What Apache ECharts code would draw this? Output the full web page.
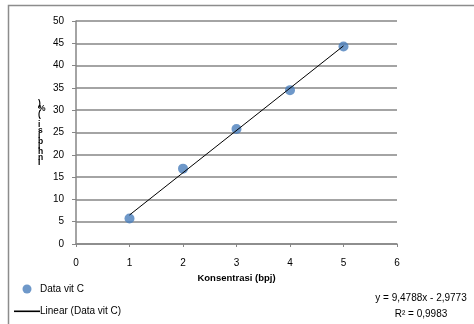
<!DOCTYPE html>
<html>
<head>
<meta charset="utf-8">
<script src="https://cdn.jsdelivr.net/npm/echarts@6/dist/echarts.min.js"></script>
<style>
  html, body { margin: 0; padding: 0; background: #fff; }
  #chart { width: 474px; height: 324px; }
</style>
</head>
<body>
<div id="chart"></div>
<script>
// data
const konsentrasi = [1, 2, 3, 4, 5];
const inhibisi = [5.7, 16.9, 25.8, 34.5, 44.3];
// trend line end points (x = 1 and x = 5)
const trendX = [1, 5];
const trendY = [6.5, 44.42];
const equationText = ['y = 9,4788x - 2,9773', 'R² = 0,9983'];
const yTitleChars = 'Inhibisi (%)'.split('').reverse();

const font = 'Liberation Sans, Arial, sans-serif';
let chart = echarts.init(document.getElementById('chart'));

chart.setOption({
  animation: false,
  grid: { left: 76, right: 77, top: 21, bottom: 80 },
  xAxis: {
    type: 'value', min: 0, max: 6, interval: 1,
    axisLine: { lineStyle: { color: '#868686', width: 1.5 } },
    axisTick: { show: true, length: 3, lineStyle: { color: '#868686' } },
    axisLabel: { color: '#000', fontFamily: font, fontSize: 10, margin: 14 },
    splitLine: { show: false },
    name: 'Konsentrasi (bpj)', nameLocation: 'middle', nameGap: 28,
    nameTextStyle: { color: '#000', fontFamily: font, fontSize: 9.5, fontWeight: 'bold' }
  },
  yAxis: {
    type: 'value', min: 0, max: 50, interval: 5,
    axisLine: { show: true, lineStyle: { color: '#868686', width: 1.5 } },
    axisTick: { show: true, length: 4, lineStyle: { color: '#868686' } },
    axisLabel: { color: '#000', fontFamily: font, fontSize: 10, margin: 12 },
    splitLine: { lineStyle: { color: '#868686', width: 1.6 } }
  },
  legend: {
    orient: 'vertical', left: 14, top: 284, padding: 0,
    itemWidth: 26, itemHeight: 9, itemGap: 12,
    textStyle: { color: '#000', fontFamily: font, fontSize: 10, padding: [0, 0, 0, -5] },
    data: [
      { name: 'Data vit C', icon: 'circle' },
      { name: 'Linear (Data vit C)', icon: 'path://M0,0M0,4H26V5.6H0ZM26,9',
        itemStyle: { color: '#000' } }
    ]
  },
  graphic: [
    {
      type: 'rect', silent: true,
      shape: { x: 8.5, y: 5.5, width: 480, height: 330 },
      style: { fill: 'none', stroke: '#8c8c8c', lineWidth: 1.5 }
    },
    {
      type: 'text', left: 38, top: 99,
      style: {
        text: yTitleChars.join('\n'), fontFamily: font, fontSize: 8.5,
        fontWeight: 'bold', lineHeight: 5.4, fill: '#000', align: 'center'
      }
    },
    {
      type: 'text', x: 421, y: 290,
      style: {
        text: equationText.join('\n'), fontFamily: font, fontSize: 10,
        lineHeight: 16, fill: '#000', align: 'center', verticalAlign: 'top'
      }
    }
  ],
  series: [
    {
      name: 'Linear (Data vit C)', type: 'line', symbol: 'none',
      data: trendX.map((x, i) => [x, trendY[i]]),
      lineStyle: { color: '#000', width: 1 },
      itemStyle: { color: '#000' },
      z: 3
    },
    {
      name: 'Data vit C', type: 'scatter', symbolSize: 10,
      data: konsentrasi.map((x, i) => [x, inhibisi[i]]),
      itemStyle: { color: '#4a7ebb' },
      z: 2
    }
  ]
});
</script>
</body>
</html>
